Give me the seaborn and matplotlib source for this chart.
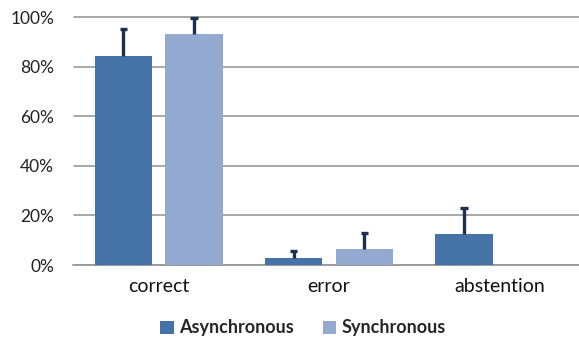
import matplotlib
matplotlib.use("Agg")
import matplotlib.pyplot as plt
import seaborn as sns
import pandas as pd
import numpy as np

categories = ["correct", "error", "abstention"]
conditions = ["Asynchronous", "Synchronous"]
async_vals = [84.4, 2.7, 12.5]
sync_vals = [93.0, 6.5, 0.0]
async_err = [10.8, 3.1, 10.4]
sync_err = [6.5, 6.5, 0.0]
yticks = [0, 20, 40, 60, 80, 100]
colors = ["#4572A7", "#94A9CF"]

df = pd.DataFrame({
    "category": categories * 2,
    "condition": [conditions[0]] * 3 + [conditions[1]] * 3,
    "value": async_vals + sync_vals,
    "err": async_err + sync_err,
})

sns.set_style("white")
plt.rcParams["font.family"] = ["Lato", "DejaVu Sans"]

fig = plt.figure(figsize=(5.79, 3.39), dpi=100)
ax = fig.add_axes([73.5 / 579, 74 / 339, 511 / 579, 248 / 339])

sns.barplot(data=df, x="category", y="value", hue="condition", order=categories,
            hue_order=conditions, palette=colors, width=0.83, gap=0.19,
            errorbar=None, ax=ax, legend=True, saturation=1, linewidth=0, zorder=3)

# error bars (upper only)
cap_half = 0.022
for cont, errs, vals in zip(ax.containers, [async_err, sync_err], [async_vals, sync_vals]):
    for p, e, v in zip(cont.patches, errs, vals):
        if e <= 0:
            continue
        xc = p.get_x() + p.get_width() / 2
        ax.vlines(xc, v, v + e, color="#1B2F4E", linewidth=2.4, zorder=4)
        ax.hlines(v + e, xc - cap_half, xc + cap_half, color="#1B2F4E",
                  linewidth=2.4, zorder=4, clip_on=False)

ax.set_ylim(0, 100)
ax.set_xlim(-0.5, 2.5)
ax.set_yticks(yticks)
ax.set_yticklabels([f"{t}%" for t in yticks], fontsize=12.5, color="#222222")
ax.tick_params(axis="y", length=0, pad=14)
ax.tick_params(axis="x", length=0, pad=9, labelsize=14)
for lab in ax.get_xticklabels():
    lab.set_color("#111111")
ax.set_xlabel("")
ax.set_ylabel("")
ax.yaxis.grid(True, color="#999999", linewidth=1.2, zorder=0)
ax.xaxis.grid(False)
for s in ["left", "right", "top"]:
    ax.spines[s].set_visible(False)
ax.spines["bottom"].set_color("#999999")
ax.spines["bottom"].set_linewidth(1.2)
ax.set_axisbelow(True)
for line in ax.get_ygridlines():
    line.set_clip_on(False)

handles, labels = ax.get_legend_handles_labels()
ax.get_legend().remove()
fig.legend(handles, labels, loc="center", bbox_to_anchor=(303 / 579, 1 - 328 / 339),
           ncol=2, frameon=False, handlelength=0.75, handleheight=0.75,
           handletextpad=0.3, columnspacing=1.6, prop={"weight": "bold", "size": 13})

fig.savefig("out.png", dpi=100)
